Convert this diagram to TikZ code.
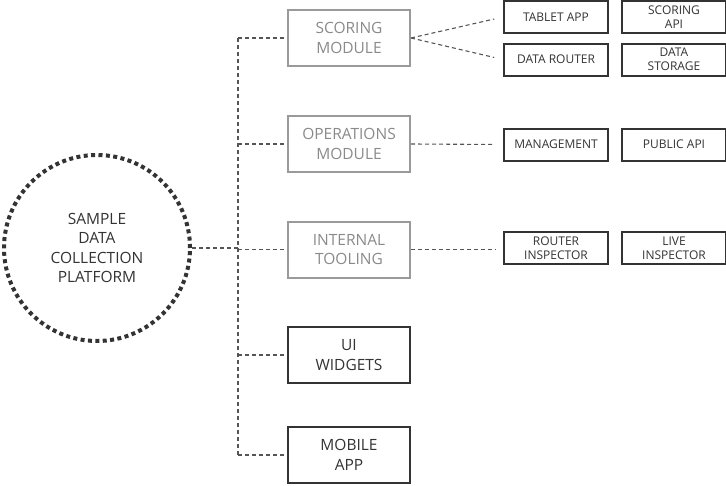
\documentclass[tikz,border=0pt]{standalone}
\usepackage{fontspec}
\setmainfont{Open Sans}
\definecolor{dk}{HTML}{333333}
\definecolor{gr}{HTML}{9A9A9A}
\definecolor{grt}{HTML}{8A8A8A}
\definecolor{ln}{HTML}{555555}
\begin{document}
\begin{tikzpicture}[x=1pt,y=-1pt,
  modbox/.style={draw=gr,line width=2pt,text=grt,minimum width=122pt,minimum height=56pt,align=center,font=\fontsize{15.5}{19.5}\selectfont,inner sep=0pt},
  darkmod/.style={draw=dk,line width=2pt,text=dk,minimum width=122pt,minimum height=56pt,align=center,font=\fontsize{15.5}{19.5}\selectfont,inner sep=0pt},
  small/.style={draw=dk,line width=2pt,text=dk,minimum width=104pt,minimum height=32pt,align=center,font=\fontsize{12}{14}\selectfont,inner sep=0pt},
  dl/.style={draw=ln,line width=1.1pt,dash pattern=on 4pt off 3pt}]
\useasboundingbox (0,0) rectangle (726,485);
\node[circle,draw=dk,line width=4pt,dash pattern=on 4pt off 3.4pt,minimum size=186pt,align=center,text=dk,font=\fontsize{15.5}{19.5}\selectfont,inner sep=0pt] (plat) at (97,248) {SAMPLE\\DATA\\COLLECTION\\PLATFORM};
\node[modbox] (scoring) at (349,38) {SCORING\\MODULE};
\node[modbox] (ops) at (349,144) {OPERATIONS\\MODULE};
\node[modbox] (tool) at (349,249.5) {INTERNAL\\TOOLING};
\node[darkmod] (ui) at (349,355) {UI\\WIDGETS};
\node[darkmod] (mob) at (349,455) {MOBILE\\APP};
\node[small] (tablet) at (556,17) {TABLET APP};
\node[small] (sapi) at (674,17) {SCORING\\API};
\node[small] (router) at (556,59.5) {DATA ROUTER};
\node[small] (store) at (674,59.5) {DATA\\STORAGE};
\node[small] (mgmt) at (556,144.5) {MANAGEMENT};
\node[small] (papi) at (674,144.5) {PUBLIC API};
\node[small] (rins) at (556,248) {ROUTER\\INSPECTOR};
\node[small] (lins) at (674,248) {LIVE\\INSPECTOR};
\coordinate (j) at (238,248);
\draw[dl] (plat.east) -- (j);
\draw[dl] (scoring.west -| j) -- (mob.west -| j);
\draw[dl] (scoring.west -| j) -- (scoring.west);
\draw[dl] (ops.west -| j) -- (ops.west);
\draw[dl] (tool.west -| j) -- (tool.west);
\draw[dl] (ui.west -| j) -- (ui.west);
\draw[dl] (mob.west -| j) -- (mob.west);
\draw[dl,shorten >=9pt] (scoring.east) -- (tablet.west);
\draw[dl,shorten >=9pt] (scoring.east) -- (router.west);
\draw[dl,shorten >=9pt] (ops.east) -- (mgmt.west);
\draw[dl,shorten >=7pt] (tool.east) -- (tool.east -| rins.west);
\end{tikzpicture}
\end{document}
